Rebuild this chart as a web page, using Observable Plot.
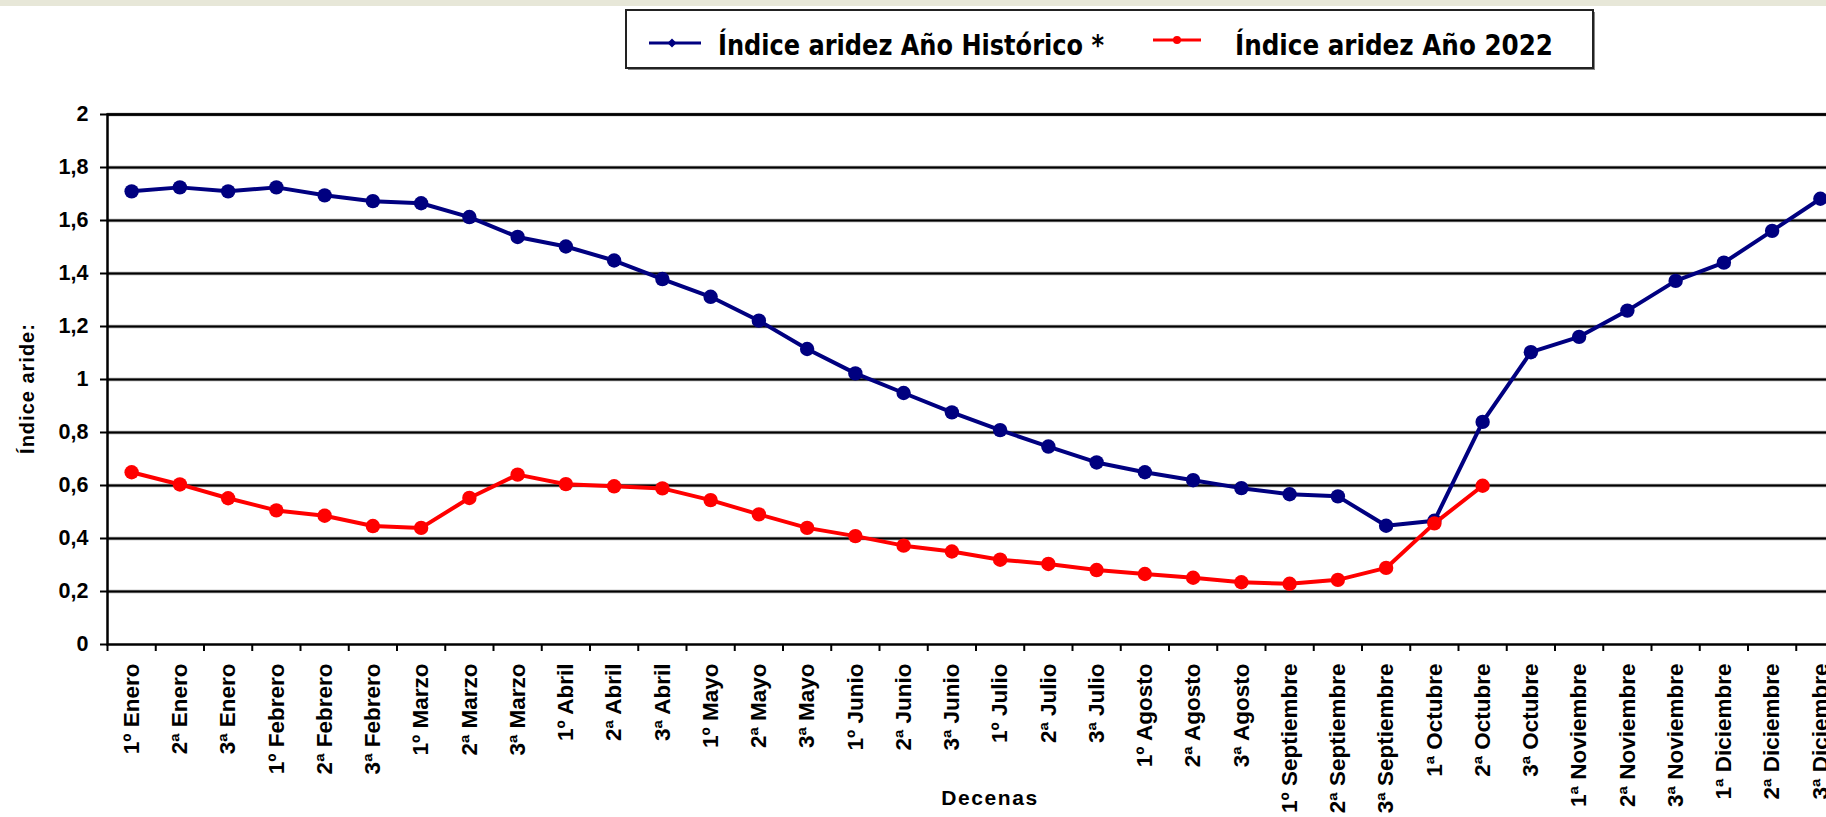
<!DOCTYPE html>
<html>
<head>
<meta charset="utf-8">
<script src="https://cdn.jsdelivr.net/npm/d3@7"></script>
<script src="https://cdn.jsdelivr.net/npm/@observablehq/plot@0.6"></script>
<style>
html, body { margin: 0; padding: 0; background: #fff; overflow: hidden; }
#wrap { position: relative; width: 1826px; height: 817px; overflow: hidden; }
#band { position: absolute; left: 0; top: 0; width: 1826px; height: 6px; background: #e7e7d8; }
#legend { position: absolute; left: 0; top: 0; }
</style>
</head>
<body>
<div id="wrap">
  <div id="chart"></div>
  <div id="band"></div>
  <svg id="legend" width="1826" height="80">
    <rect x="628" y="12" width="967" height="58" fill="#888" />
    <rect x="626" y="10" width="967" height="58" fill="#fff" stroke="#222" stroke-width="2" />
    <line x1="649" x2="701" y1="43" y2="43" stroke="#000080" stroke-width="3" />
    <path d="M672,38.5 L676.5,43 L672,47.5 L667.5,43Z" fill="#000080" />
    <text id="lg1" x="718" y="55" font-family="'DejaVu Sans Condensed', 'DejaVu Sans', sans-serif" font-weight="bold" font-size="28" textLength="386" lengthAdjust="spacingAndGlyphs"></text>
    <line x1="1153" x2="1201" y1="40" y2="40" stroke="#ff0000" stroke-width="3" />
    <circle cx="1177" cy="40" r="4" fill="#ff0000" />
    <text id="lg2" x="1235" y="55" font-family="'DejaVu Sans Condensed', 'DejaVu Sans', sans-serif" font-weight="bold" font-size="28" textLength="318" lengthAdjust="spacingAndGlyphs"></text>
  </svg>
</div>
<script>
// Categories (decenas)
const decenas = [
  "1º Enero", "2ª Enero", "3ª Enero",
  "1º Febrero", "2ª Febrero", "3ª Febrero",
  "1º Marzo", "2ª Marzo", "3ª Marzo",
  "1º Abril", "2ª Abril", "3ª Abril",
  "1º Mayo", "2ª Mayo", "3ª Mayo",
  "1º Junio", "2ª Junio", "3ª Junio",
  "1º Julio", "2ª Julio", "3ª Julio",
  "1º Agosto", "2ª Agosto", "3ª Agosto",
  "1º Septiembre", "2ª Septiembre", "3ª Septiembre",
  "1ª Octubre", "2ª Octubre", "3ª Octubre",
  "1ª Noviembre", "2ª Noviembre", "3ª Noviembre",
  "1ª Diciembre", "2ª Diciembre", "3ª Diciembre"
];

// Series values
const historico = [
  1.71, 1.725, 1.71, 1.725, 1.695, 1.673, 1.665, 1.613, 1.538,
  1.502, 1.449, 1.379, 1.312, 1.222, 1.115, 1.023, 0.949, 0.876,
  0.809, 0.747, 0.687, 0.65, 0.62, 0.59, 0.567, 0.559, 0.448,
  0.467, 0.84, 1.103, 1.161, 1.26, 1.372, 1.441, 1.561, 1.682
];
const anio2022 = [
  0.65, 0.604, 0.552, 0.506, 0.486, 0.447, 0.44, 0.553, 0.641,
  0.605, 0.597, 0.589, 0.545, 0.491, 0.44, 0.409, 0.373, 0.351,
  0.32, 0.304, 0.281, 0.266, 0.252, 0.235, 0.229, 0.244, 0.289,
  0.457, 0.599
];

// Tick values and labels
const yTicks = [0, 0.2, 0.4, 0.6, 0.8, 1, 1.2, 1.4, 1.6, 1.8, 2];
const yTickLabels = ["0", "0,2", "0,4", "0,6", "0,8", "1", "1,2", "1,4", "1,6", "1,8", "2"];
const legendLabels = ["Índice aridez Año Histórico *", "Índice aridez Año 2022"];
const xTitle = "Decenas";
const yTitle = "Índice aride:";

document.getElementById("lg1").textContent = legendLabels[0];
document.getElementById("lg2").textContent = legendLabels[1];

const histRows = historico.map((v, i) => ({i, v}));
const rows2022 = anio2022.map((v, i) => ({i, v}));
const centers = decenas.map((d, i) => i);
const boundaries = d3.range(decenas.length + 1).map(i => i - 0.5);

const plot = Plot.plot({
  width: 1826,
  height: 817,
  marginLeft: 107,
  marginRight: -18,
  marginTop: 114,
  marginBottom: 173,
  style: "font-family: 'Liberation Sans', Arial, sans-serif; font-weight: bold; font-size: 21px; background: #fff; color: #000; overflow: hidden;",
  x: {domain: [-0.5, decenas.length - 0.5]},
  y: {domain: [0, 2]},
  marks: [
    Plot.ruleY(yTicks.slice(1), {stroke: "#9a9a9a", strokeWidth: 3.5}),
    Plot.ruleY(yTicks.slice(1), {stroke: "#000", strokeWidth: 2}),
    Plot.frame({stroke: "#000", strokeWidth: 2.5}),
    Plot.axisY({
      ticks: yTicks,
      tickFormat: d => yTickLabels[yTicks.indexOf(d)],
      tickSize: 7,
      tickPadding: 12,
      strokeWidth: 2,
      fontSize: 21.5,
      label: null
    }),
    Plot.axisX({
      ticks: boundaries,
      tickFormat: () => "",
      tickSize: 7,
      strokeWidth: 2,
      label: null
    }),
    Plot.axisX({
      ticks: centers,
      tickFormat: i => decenas[i],
      tickSize: 0,
      tickPadding: 19,
      tickRotate: -90,
      fontSize: 22.5,
      label: null
    }),
    Plot.text([yTitle], {
      text: d => d,
      frameAnchor: "left",
      textAnchor: "middle",
      rotate: -90,
      dx: -80,
      dy: 9,
      fontSize: 20,
      fontWeight: "bold"
    }),
    Plot.text([xTitle], {
      text: d => d,
      frameAnchor: "bottom",
      textAnchor: "middle",
      lineAnchor: "bottom",
      dx: 14,
      dy: 160,
      fontSize: 21,
      fontWeight: "bold"
    }),
    Plot.line(histRows, {x: "i", y: "v", stroke: "#000080", strokeWidth: 4}),
    Plot.dot(histRows, {x: "i", y: "v", r: 7.2, fill: "#000080"}),
    Plot.line(rows2022, {x: "i", y: "v", stroke: "#ff0000", strokeWidth: 4}),
    Plot.dot(rows2022, {x: "i", y: "v", r: 7.2, fill: "#ff0000"})
  ]
});

d3.select(plot).selectAll("text").each(function () {
  const t = this.textContent;
  if (t === xTitle) d3.select(this).style("letter-spacing", "1.6px");
  if (t === yTitle) d3.select(this).style("letter-spacing", "1px");
});

document.getElementById("chart").appendChild(plot);
</script>
</body>
</html>
